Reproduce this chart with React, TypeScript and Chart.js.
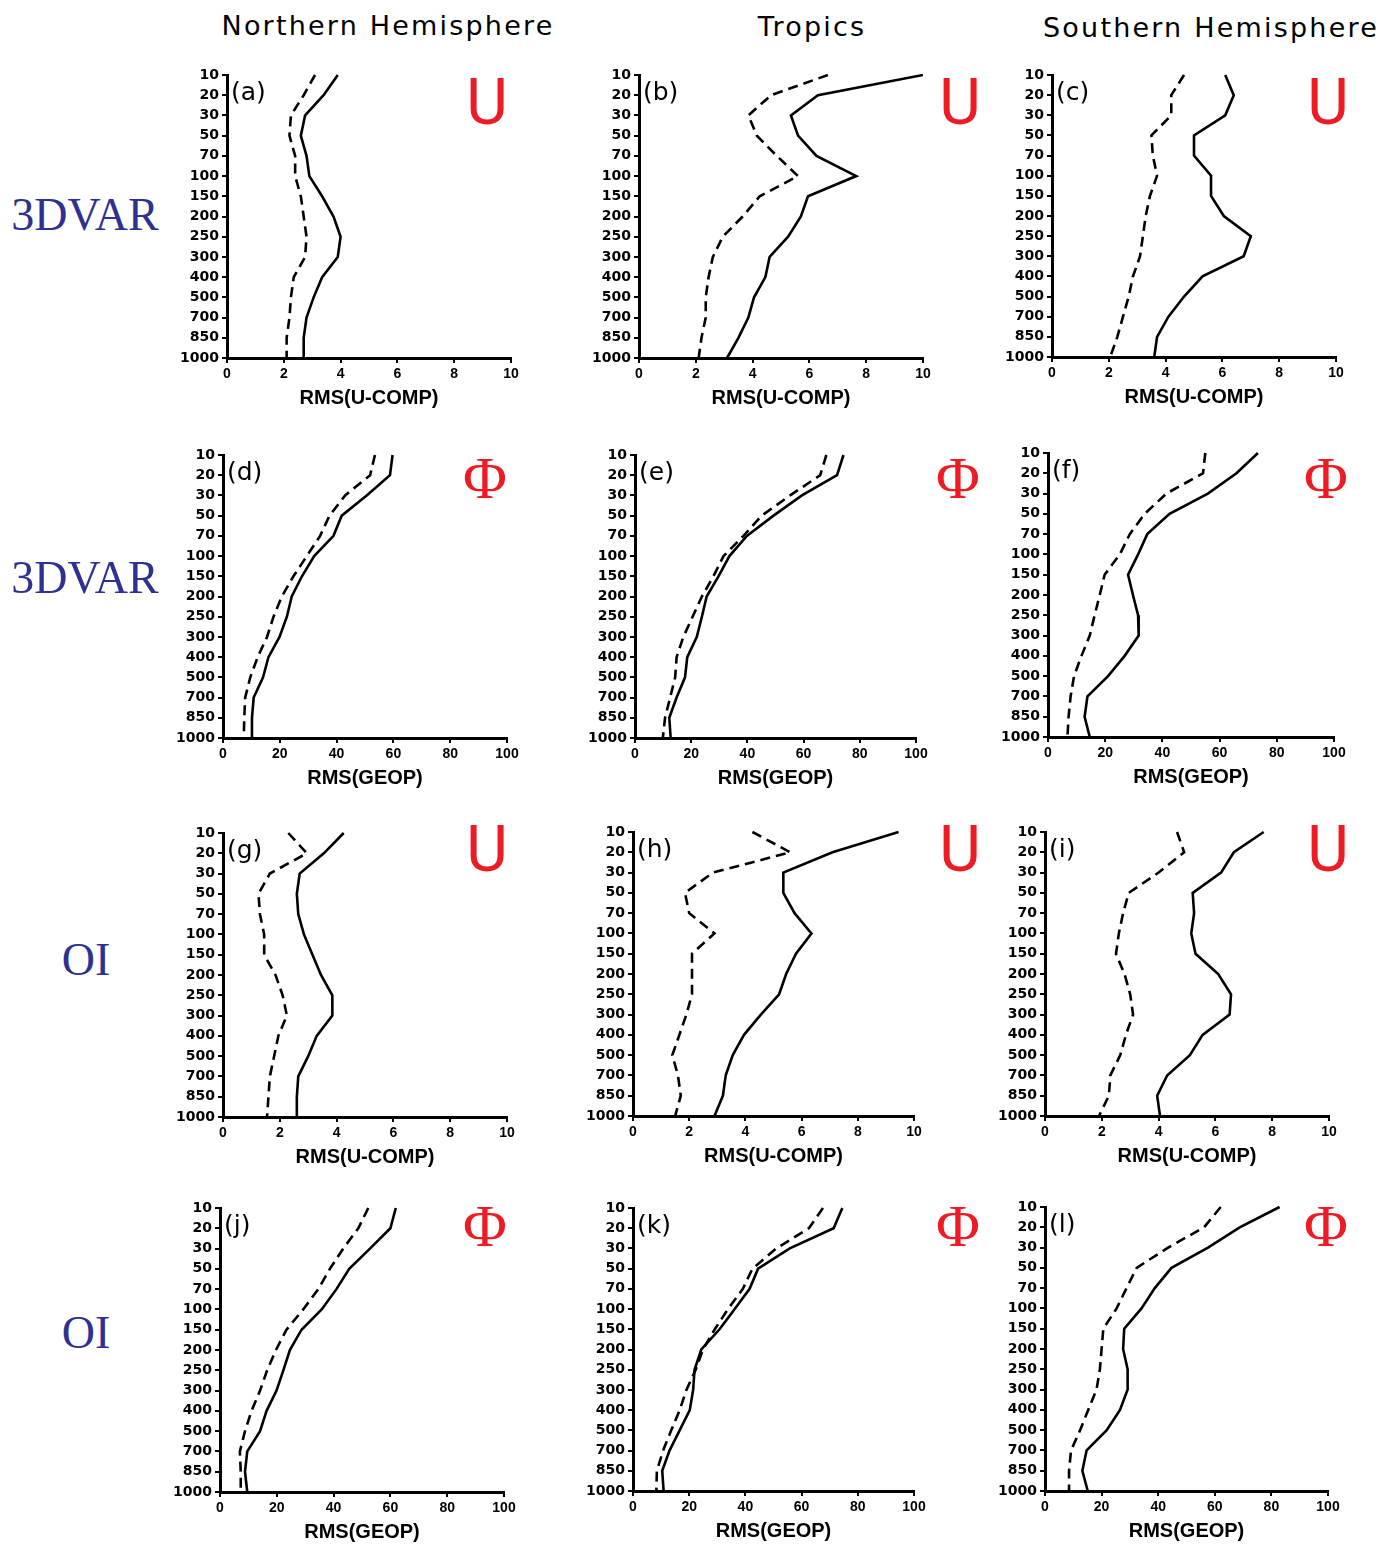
import React, { useEffect, useRef } from 'react';
import { Chart, registerables } from 'chart.js';

Chart.register(...registerables);

// ---------------- data ----------------
const LEVELS = ['10', '20', '30', '50', '70', '100', '150', '200', '250', '300', '400', '500', '700', '850', '1000'];

const aSolid = [3.9, 3.4, 2.75, 2.6, 2.8, 2.9, 3.35, 3.75, 4.0, 3.9, 3.35, 3.05, 2.8, 2.7, 2.7];
const aDash = [3.1, 2.7, 2.25, 2.2, 2.4, 2.4, 2.6, 2.7, 2.8, 2.75, 2.35, 2.25, 2.2, 2.1, 2.1];
const bSolid = [10.0, 6.3, 5.35, 5.6, 6.25, 7.65, 5.95, 5.7, 5.25, 4.6, 4.45, 4.05, 3.85, 3.5, 3.1];
const bDash = [6.65, 4.65, 3.85, 4.15, 4.85, 5.6, 4.25, 3.65, 2.95, 2.6, 2.45, 2.35, 2.35, 2.2, 2.1];
const cSolid = [6.1, 6.4, 6.1, 5.0, 5.0, 5.6, 5.6, 6.05, 7.0, 6.75, 5.3, 4.65, 4.1, 3.7, 3.6];
const cDash = [4.65, 4.2, 4.2, 3.5, 3.55, 3.7, 3.45, 3.3, 3.2, 3.1, 2.85, 2.7, 2.5, 2.3, 2.05];
const dSolid = [59.7, 58.8, 50.6, 41.8, 38.9, 32.1, 27.8, 24.2, 22.5, 19.9, 16.0, 14.1, 10.8, 10.2, 10.2];
const dDash = [53.5, 51.8, 43.0, 37.5, 34.2, 29.5, 24.8, 20.7, 17.8, 15.5, 12.2, 9.6, 7.8, 7.5, 7.3];
const eSolid = [74.2, 71.9, 59.4, 49.3, 39.8, 33.6, 29.7, 25.5, 23.8, 22.0, 18.6, 17.8, 14.8, 12.2, 12.7];
const eDash = [68.1, 65.9, 55.2, 45.1, 38.6, 31.5, 27.9, 23.8, 20.5, 17.2, 14.8, 14.3, 12.5, 10.7, 9.9];
const fSolid = [73.4, 65.9, 55.9, 42.5, 34.7, 31.5, 28.0, 29.7, 31.5, 31.7, 26.8, 21.0, 13.8, 12.8, 14.6];
const fDash = [55.0, 54.2, 41.4, 33.8, 28.6, 25.1, 19.8, 18.1, 16.3, 14.6, 11.7, 9.1, 7.9, 7.2, 6.8];
const gSolid = [4.25, 3.55, 2.7, 2.6, 2.65, 2.85, 3.15, 3.45, 3.85, 3.85, 3.3, 3.0, 2.65, 2.6, 2.6];
const gDash = [2.3, 2.95, 1.65, 1.25, 1.3, 1.45, 1.45, 1.85, 2.1, 2.25, 1.95, 1.8, 1.65, 1.6, 1.55];
const hSolid = [9.45, 7.1, 5.35, 5.35, 5.75, 6.35, 5.8, 5.45, 5.2, 4.55, 3.95, 3.55, 3.3, 3.2, 2.9];
const hDash = [4.25, 5.6, 2.85, 1.85, 2.0, 2.9, 2.1, 2.1, 2.1, 1.9, 1.65, 1.4, 1.6, 1.7, 1.5];
const iSolid = [7.7, 6.65, 6.2, 5.2, 5.25, 5.15, 5.3, 6.1, 6.55, 6.5, 5.55, 5.1, 4.3, 3.95, 4.05];
const iDash = [4.65, 4.9, 4.0, 2.95, 2.75, 2.6, 2.5, 2.8, 3.0, 3.1, 2.85, 2.65, 2.3, 2.25, 1.9];
const jSolid = [61.9, 60.0, 52.8, 45.5, 41.0, 35.8, 28.7, 24.6, 22.3, 19.9, 16.4, 14.1, 9.6, 8.8, 9.6];
const jDash = [52.2, 48.7, 43.4, 38.7, 34.6, 29.3, 23.4, 19.7, 16.6, 14.1, 11.1, 8.8, 7.0, 7.3, 7.3];
const kSolid = [74.5, 71.4, 55.8, 44.5, 41.5, 36.2, 30.8, 24.3, 21.9, 21.4, 20.2, 16.6, 13.0, 10.4, 10.9];
const kDash = [67.6, 62.6, 51.0, 42.5, 39.1, 33.8, 29.1, 24.9, 22.3, 19.0, 16.6, 13.6, 10.7, 8.5, 8.3];
const lSolid = [82.9, 68.8, 57.6, 44.7, 38.8, 34.1, 28.0, 27.6, 29.2, 29.2, 26.5, 21.8, 14.7, 13.2, 15.1];
const lDash = [62.1, 56.2, 43.5, 32.4, 28.8, 25.3, 20.6, 20.0, 19.4, 18.2, 15.3, 12.4, 9.2, 8.5, 8.5];

const U_TITLE = 'RMS(U-COMP)';
const G_TITLE = 'RMS(GEOP)';
const U_MAX = 10;
const G_MAX = 100;

const COLUMN_TITLES = ['Northern Hemisphere', 'Tropics', 'Southern Hemisphere'];
const ROW_TITLES = ['3DVAR', '3DVAR', 'OI', 'OI'];

// ---------------- layout ----------------
type PanelSpec = {
  tag: string;
  solid: number[];
  dashed: number[];
  max: number;
  title: string;
  glyph: string;
  x0: number; x1: number; y0: number; y1: number;
  gx: number; gy: number;
};

const PANELS: PanelSpec[] = [
  { tag: '(a)', solid: aSolid, dashed: aDash, max: U_MAX, title: U_TITLE, glyph: 'U', x0: 227, x1: 511, y0: 75, y1: 358, gx: 487, gy: 103 },
  { tag: '(b)', solid: bSolid, dashed: bDash, max: U_MAX, title: U_TITLE, glyph: 'U', x0: 639, x1: 923, y0: 75, y1: 358, gx: 960, gy: 103 },
  { tag: '(c)', solid: cSolid, dashed: cDash, max: U_MAX, title: U_TITLE, glyph: 'U', x0: 1052, x1: 1336, y0: 75, y1: 357, gx: 1328, gy: 103 },
  { tag: '(d)', solid: dSolid, dashed: dDash, max: G_MAX, title: G_TITLE, glyph: 'Φ', x0: 223, x1: 507, y0: 455, y1: 738, gx: 485, gy: 478 },
  { tag: '(e)', solid: eSolid, dashed: eDash, max: G_MAX, title: G_TITLE, glyph: 'Φ', x0: 635, x1: 916, y0: 455, y1: 738, gx: 958, gy: 478 },
  { tag: '(f)', solid: fSolid, dashed: fDash, max: G_MAX, title: G_TITLE, glyph: 'Φ', x0: 1048, x1: 1334, y0: 453, y1: 737, gx: 1326, gy: 478 },
  { tag: '(g)', solid: gSolid, dashed: gDash, max: U_MAX, title: U_TITLE, glyph: 'U', x0: 223, x1: 507, y0: 833, y1: 1117, gx: 487, gy: 850 },
  { tag: '(h)', solid: hSolid, dashed: hDash, max: U_MAX, title: U_TITLE, glyph: 'U', x0: 633, x1: 914, y0: 832, y1: 1116, gx: 960, gy: 850 },
  { tag: '(i)', solid: iSolid, dashed: iDash, max: U_MAX, title: U_TITLE, glyph: 'U', x0: 1045, x1: 1329, y0: 832, y1: 1116, gx: 1328, gy: 850 },
  { tag: '(j)', solid: jSolid, dashed: jDash, max: G_MAX, title: G_TITLE, glyph: 'Φ', x0: 220, x1: 504, y0: 1208, y1: 1492, gx: 485, gy: 1226 },
  { tag: '(k)', solid: kSolid, dashed: kDash, max: G_MAX, title: G_TITLE, glyph: 'Φ', x0: 633, x1: 914, y0: 1208, y1: 1491, gx: 958, gy: 1226 },
  { tag: '(l)', solid: lSolid, dashed: lDash, max: G_MAX, title: G_TITLE, glyph: 'Φ', x0: 1045, x1: 1328, y0: 1207, y1: 1491, gx: 1326, gy: 1226 },
];

const YW = 64;
const TP = 16;
const RP = 30;
const XH = 52;

function Panel({ p }: { p: PanelSpec }) {
  const ref = useRef<HTMLCanvasElement>(null);
  useEffect(() => {
    if (!ref.current) return;
    const chart = new Chart(ref.current, {
      type: 'line',
      data: {
        labels: LEVELS,
        datasets: [
          { data: p.solid, borderColor: '#000', borderWidth: 2.6, pointRadius: 0, tension: 0, fill: false },
          { data: p.dashed, borderColor: '#000', borderWidth: 2.6, borderDash: [10, 6], pointRadius: 0, tension: 0, fill: false },
        ],
      },
      options: {
        indexAxis: 'y',
        responsive: false,
        animation: false,
        devicePixelRatio: 1,
        layout: { padding: { left: 0, top: TP, right: RP, bottom: 0 } },
        plugins: { legend: { display: false }, tooltip: { enabled: false } },
        scales: {
          x: {
            type: 'linear',
            min: 0,
            max: p.max,
            ticks: {
              stepSize: p.max / 5,
              color: '#000',
              font: { family: 'Liberation Sans', size: 14, weight: 'bold' },
              padding: 3,
              maxRotation: 0,
              autoSkip: false,
            },
            grid: { display: true, drawOnChartArea: false, drawTicks: true, tickLength: 5, color: '#000', lineWidth: 2 },
            border: { display: true, color: '#000', width: 3 },
            title: {
              display: true,
              text: p.title,
              color: '#000',
              font: { family: 'Liberation Sans', size: 20, weight: 'bold' },
              padding: 0,
            },
            afterFit: (s: any) => { s.height = XH; },
          },
          y: {
            type: 'category',
            offset: false,
            ticks: {
              color: '#000',
              font: { family: 'DejaVu Sans', size: 14, weight: 'bold' },
              padding: 3,
              autoSkip: false,
            },
            grid: { display: true, drawOnChartArea: false, drawTicks: true, tickLength: 5, color: '#000', lineWidth: 2 },
            border: { display: true, color: '#000', width: 3 },
            afterFit: (s: any) => { s.width = YW; },
          },
        },
      } as any,
    });
    return () => chart.destroy();
  }, [p]);
  const w = YW + (p.x1 - p.x0) + RP;
  const h = TP + (p.y1 - p.y0) + XH;
  return (
    <canvas
      ref={ref}
      width={w}
      height={h}
      style={{ position: 'absolute', left: p.x0 - YW, top: p.y0 - TP, width: w, height: h }}
    />
  );
}

const centered = (x: number, y: number): React.CSSProperties => ({
  position: 'absolute',
  left: x,
  top: y,
  transform: 'translate(-50%, -50%)',
  whiteSpace: 'nowrap',
  lineHeight: 1,
});

const COL_POS = [
  { x: 388, y: 25 },
  { x: 812, y: 26 },
  { x: 1211, y: 27 },
];
const ROW_POS = [
  { x: 85, y: 215 },
  { x: 85, y: 578 },
  { x: 86, y: 960 },
  { x: 86, y: 1333 },
];

export default function App() {
  return (
    <div style={{ position: 'absolute', left: 0, top: 0, width: 1391, height: 1545, background: '#fff', overflow: 'hidden' }}>
      {PANELS.map((p) => (
        <Panel key={p.tag} p={p} />
      ))}
      {PANELS.map((p) => (
        <div
          key={p.tag + 'tag'}
          style={{
            position: 'absolute',
            left: p.x0 + 4,
            top: p.y0 + 16,
            transform: 'translateY(-50%)',
            fontFamily: 'DejaVu Sans',
            fontSize: 25,
            lineHeight: 1,
            color: '#000',
          }}
        >
          {p.tag}
        </div>
      ))}
      {PANELS.map((p) =>
        p.glyph === 'U' ? (
          <div
            key={p.tag + 'g'}
            style={{ ...centered(p.gx, p.gy), fontFamily: 'Roboto', fontSize: 64, color: '#ed1c24' }}
          >
            U
          </div>
        ) : (
          <div
            key={p.tag + 'g'}
            style={{ ...centered(p.gx, p.gy), fontFamily: 'Liberation Serif', fontSize: 60, color: '#ed1c24' }}
          >
            Φ
          </div>
        )
      )}
      {COLUMN_TITLES.map((t, i) => (
        <div
          key={t}
          style={{ ...centered(COL_POS[i].x, COL_POS[i].y), fontFamily: 'DejaVu Sans', fontSize: 27, letterSpacing: 2.2, color: '#000' }}
        >
          {t}
        </div>
      ))}
      {ROW_TITLES.map((t, i) => (
        <div
          key={'row' + i}
          style={{ ...centered(ROW_POS[i].x, ROW_POS[i].y), fontFamily: 'Liberation Serif', fontSize: 46, color: '#2e3192' }}
        >
          {t}
        </div>
      ))}
    </div>
  );
}
